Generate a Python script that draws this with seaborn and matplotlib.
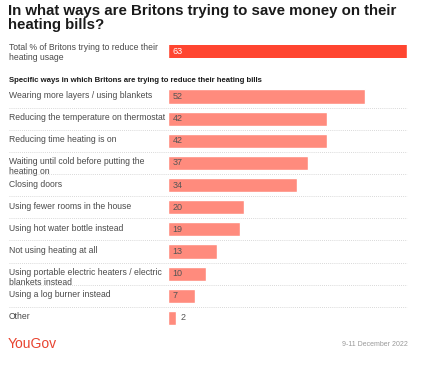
import matplotlib
matplotlib.use("Agg")
import matplotlib.pyplot as plt
import matplotlib.transforms as mtransforms
from matplotlib.lines import Line2D
import pandas as pd
import seaborn as sns

# data
title = "In what ways are Britons trying to save money on their\nheating bills?"
total_label = "Total % of Britons trying to reduce their\nheating usage"
total_value = 63
subtitle = "Specific ways in which Britons are trying to reduce their heating bills"
ways = [
    "Wearing more layers / using blankets",
    "Reducing the temperature on thermostat",
    "Reducing time heating is on",
    "Waiting until cold before putting the\nheating on",
    "Closing doors",
    "Using fewer rooms in the house",
    "Using hot water bottle instead",
    "Not using heating at all",
    "Using portable electric heaters / electric\nblankets instead",
    "Using a log burner instead",
    "Other",
]
shares = [52, 42, 42, 37, 34, 20, 19, 13, 10, 7, 2]
date_text = "9-11 December 2022"

RED = "#ff4530"
SALMON = "#ff8b7d"
TXT = "#4a4a4a"

sns.set_style("white")
plt.rcParams["font.family"] = ["Liberation Sans", "DejaVu Sans"]

W, H = 428, 367
fig = plt.figure(figsize=(W / 100, H / 100), dpi=100)
fig.patch.set_facecolor("white")


def fx(px):
    return px / W


def fy(py):
    return 1 - py / H


bar_left, bar_right = 168, 407

# total bar
ax0 = fig.add_axes([fx(bar_left), fy(58), fx(bar_right - bar_left), (58 - 44.5) / H])
sns.barplot(x=[total_value], y=["total"], color=RED, width=1.0, ax=ax0, saturation=1)
ax0.set_xlim(0, total_value)
ax0.set_ylim(0.4, -0.4)
ax0.axis("off")
ax0.text(1.2, 0, str(total_value), color="white", fontsize=6.5, va="center", ha="left")
fig.text(fx(9), fy(43), total_label, fontsize=6.2, color=TXT, va="top", ha="left",
         linespacing=1.1)

# specific ways
top_c, bot_c = 96.5, 318
step = (bot_c - top_c) / (len(ways) - 1)
ax = fig.add_axes([fx(bar_left), fy(bot_c + step / 2), fx(bar_right - bar_left),
                   (bot_c - top_c + step) / H])
df = pd.DataFrame({"way": ways, "share": shares})
sns.barplot(data=df, x="share", y="way", color=SALMON, width=0.64, ax=ax, saturation=1)
ax.set_xlim(0, total_value)
ax.set_ylim(len(ways) - 0.5, -0.5)
ax.axis("off")

blend = mtransforms.blended_transform_factory(fig.transFigure, ax.transData)
for i, (lab, v) in enumerate(zip(ways, shares)):
    ax.text(fx(9), i - 0.25, lab, transform=blend, fontsize=6.2, color=TXT,
            va="top", ha="left", linespacing=1.05)
    if v >= 5:
        ax.text(1.2, i, str(v), fontsize=6.5, color="#555555", va="center", ha="left")
    else:
        ax.text(v + 1.2, i, str(v), fontsize=6.5, color="#555555", va="center", ha="left")
    if i < len(ways) - 1:
        fig.add_artist(Line2D([fx(9), fx(bar_right)], [i + 0.5, i + 0.5], transform=blend,
                              color="#cccccc", lw=0.6, linestyle=(0, (1, 1.5))))

fig.text(fx(8), fy(4), title, fontsize=10.8, fontweight="bold", color="#1a1a1a",
         va="top", ha="left", linespacing=0.98)
fig.text(fx(9), fy(77), subtitle, fontsize=5.6, fontweight="bold", color="#1a1a1a",
         va="top", ha="left")
fig.text(fx(8), fy(344), "YouGov", fontsize=10, color="#e8432f", va="center", ha="left")
fig.text(fx(408), fy(344), date_text, fontsize=5, color="#999999", va="center", ha="right")

fig.savefig("out.png", dpi=100, facecolor="white")
